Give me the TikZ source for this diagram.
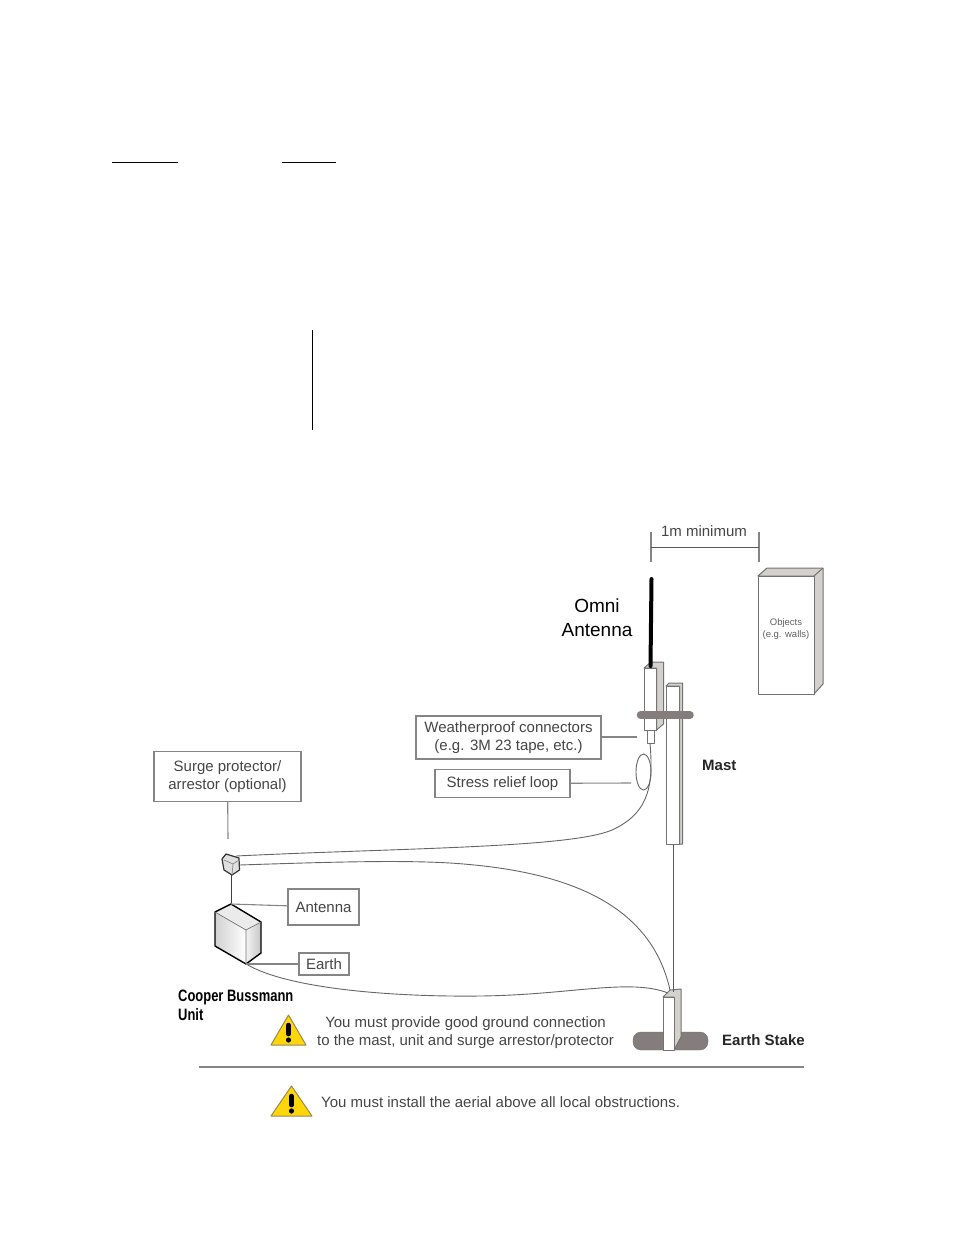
\documentclass[tikz,border=0pt]{standalone}
\usepackage{fontspec}
\setmainfont{Liberation Sans}
\newfontfamily\narrowfont[FakeStretch=0.785]{Liberation Sans}
\usetikzlibrary{positioning, calc}
\definecolor{labeltext}{HTML}{454545}
\definecolor{boxline}{HTML}{858585}
\definecolor{sidegrey}{HTML}{D4D0CC}
\definecolor{bargrey}{HTML}{857D7B}
\definecolor{warnyellow}{HTML}{FFD60A}
\definecolor{warnline}{HTML}{9A8A50}

\begin{document}
\begin{tikzpicture}[
  x=1pt, y=-1pt,
  labelbox/.style={draw=boxline, line width=1.2pt, fill=white, inner sep=0pt, align=center, text=labeltext, font=\fontsize{15}{18}\selectfont},
  plain/.style={inner sep=0pt, align=center, text=labeltext, font=\fontsize{15}{18}\selectfont},
  strong/.style={inner sep=0pt, text=black!85, font=\fontsize{15}{18}\selectfont\bfseries},
  lead/.style={draw=boxline, line width=1.1pt},
  cable/.style={draw=black!60, line width=0.9pt},
  solid3d/.style={draw=black!55, line width=1pt, line join=round},
]
\useasboundingbox (0,0) rectangle (954,1235);

% Lines left over on the page
\draw[black, line width=0.9pt] (112,162) -- (178,162);
\draw[black, line width=0.9pt] (282,162) -- (336,162);
\draw[black, line width=0.9pt] (312,330) -- (312,430);

% Objects
\filldraw[solid3d, fill=sidegrey] (758,576) -- (767,568) -- (823,568) -- (823,684) -- (814,694) -- (814,576) -- cycle;
\draw[solid3d] (814,576) -- (823,568);
\filldraw[solid3d, fill=white] (758,576) rectangle (814,694);
\node[inner sep=0pt, align=center, text=labeltext!85, font=\fontsize{9.5}{12}\selectfont] (objects) at (786,629) {Objects\\(e.g. walls)};

% 1m dimension
\coordinate (dimL) at (651,547);
\coordinate (dimR) at (759,547);
\draw[lead] (651,532) -- (651,562);
\draw[lead] (759,532) -- (759,562);
\draw[black!65, line width=1pt] (dimL) -- (dimR);
\node[plain] (dimtext) at (704,531.5) {1m minimum};

% Mast
\filldraw[solid3d, fill=sidegrey] (666,686) -- (669,683) -- (682.5,683) -- (682.5,844) -- (679.5,844) -- (679.5,686) -- cycle;
\filldraw[solid3d, fill=white] (666,686) rectangle (679.5,844);

% Antenna with its bracket
\filldraw[solid3d, fill=sidegrey] (644,668) -- (651,662) -- (663.5,662) -- (663.5,724) -- (656.5,730) -- (656.5,668) -- cycle;
\filldraw[solid3d, fill=white] (644,668) rectangle (656.5,730);
\filldraw[solid3d, fill=white, line width=0.9pt] (647,730) rectangle (654,743);
\draw[black, line width=4pt, line cap=round] (651.5,579) -- (650.5,666);
\draw[bargrey, line width=7.5pt, line cap=round] (640.5,715) -- (690,715);

% Earth stake
\fill[bargrey, rounded corners=8pt] (633,1032) rectangle (708,1050);
\draw[black!55, rounded corners=8pt] (633,1032) rectangle (708,1050);
\filldraw[solid3d, fill=sidegrey] (663,997) -- (670,990) -- (681,989) -- (681,1037) -- (674,1050) -- (674,997) -- cycle;
\filldraw[solid3d, fill=white] (663,997) rectangle (674,1050);
\draw[black!65, line width=1pt] (673,844) -- (673,992);

% Surge protector
\filldraw[black!80, line width=1.2pt, fill=black!12, line join=round] (222,859) -- (226,854) -- (239,858) -- (239.5,870) -- (232,875) -- (224,870) -- cycle;
\draw[black!50, line width=0.6pt] (224,860) -- (233,864) -- (239,860) (233,864) -- (232,875);
\coordinate (surgeA) at (236,856);
\coordinate (surgeB) at (239.5,865);
\coordinate (surgeTop) at (228,839);
\coordinate (surgeBot) at (231,875);

% Cooper Bussmann box
\shade[left color=black!18, right color=white] (215,912) -- (246,930) -- (246,964) -- (215,946) -- cycle;
\shade[left color=black!5, right color=black!22] (246,930) -- (261,922) -- (261,953) -- (246,964) -- cycle;
\fill[black!8] (231,904) -- (261,922) -- (246,930) -- (215,912) -- cycle;
\draw[black, line width=1.4pt, line join=round] (231,904) -- (261,922) -- (261,953) -- (246,964) -- (215,946) -- (215,912) -- cycle;
\draw[black!55, line width=0.7pt] (215,912) -- (246,930) -- (261,922) (246,930) -- (246,964);
\coordinate (unitTop) at (231,904);
\coordinate (unitBot) at (246,964);

% Wiring
\coordinate (antFoot) at (650,743);
\coordinate (stakeTop) at (668,993);
\coordinate (stakeTopB) at (670,990);
\draw[cable] (antFoot) .. controls (653,780) and (652,812) .. (612,830) .. controls (570,848) and (400,848) .. (surgeA);
\draw[cable] (surgeB) .. controls (330,862) and (400,860) .. (450,863) .. controls (560,870) and (650,900) .. (stakeTopB);
\draw[cable] (unitBot) .. controls (290,990) and (400,997) .. (480,996) .. controls (570,995) and (630,978) .. (stakeTop);
\draw[black!75, line width=1pt] (surgeBot) -- (unitTop);
\draw[cable] (643.5,772) ellipse [x radius=7.5, y radius=18];

% Labels
\node[labelbox, minimum width=185pt, minimum height=43pt] (wpbox) at (508.5,737.5) {Weatherproof connectors\\(e.g. 3M 23 tape, etc.)};
\node[labelbox, minimum width=135pt, minimum height=28pt] (srbox) at (502.5,783.5) {Stress relief loop};
\node[labelbox, minimum width=147pt, minimum height=50pt] (surgebox) at (227.5,776.5) {Surge protector/\\arrestor (optional)};
\node[labelbox, minimum width=71pt, minimum height=36pt] (antbox) at (323.5,907) {Antenna};
\node[labelbox, minimum width=50pt, minimum height=22pt] (earthbox) at (324,964) {Earth};
\coordinate (wpend) at (637,737);
\coordinate (srend) at (631,783);
\draw[lead] (wpbox.east |- wpend) -- (wpend);
\draw[lead] (srbox) -- (srend);
\draw[lead] (surgebox) -- (surgeTop);
\draw[lead] (unitTop) -- (antbox);
\draw[lead] (unitBot) -- (earthbox);

\node[inner sep=0pt, align=center, text=black, font=\fontsize{19}{24}\selectfont] (omni) at (597,618) {Omni\\Antenna};
\node[strong, anchor=west] (mast) at (702,765) {Mast};
\node[strong, anchor=west] (stake) at (722,1040) {Earth Stake};
\node[inner sep=0pt, anchor=north west, align=left, text=black, font=\fontsize{16.5}{19}\narrowfont\bfseries] (unit) at (178,990) {Cooper Bussmann\\Unit};

% Warnings
\foreach \tl/\tr/\tm/\ta/\tb in {271/306/288.5/1015/1045, 271/312/291.5/1086/1116} {
  \filldraw[warnline, fill=warnyellow, line width=1pt, line join=round] (\tl,\tb) -- (\tm,\ta) -- (\tr,\tb) -- cycle;
  \draw[black, line width=4.5pt, line cap=round] (\tm,\ta+10) -- (\tm,\ta+19);
  \fill[black] (\tm,\ta+25) circle (2.6);
}
\node[plain] (warn1) at (465.5,1032.5) {You must provide good ground connection\\to the mast, unit and surge arrestor/protector};
\node[plain, anchor=west] (warn2) at (321,1102) {You must install the aerial above all local obstructions.};
\draw[boxline, line width=1.6pt] (199,1067) -- (804,1067);

\end{tikzpicture}
\end{document}
